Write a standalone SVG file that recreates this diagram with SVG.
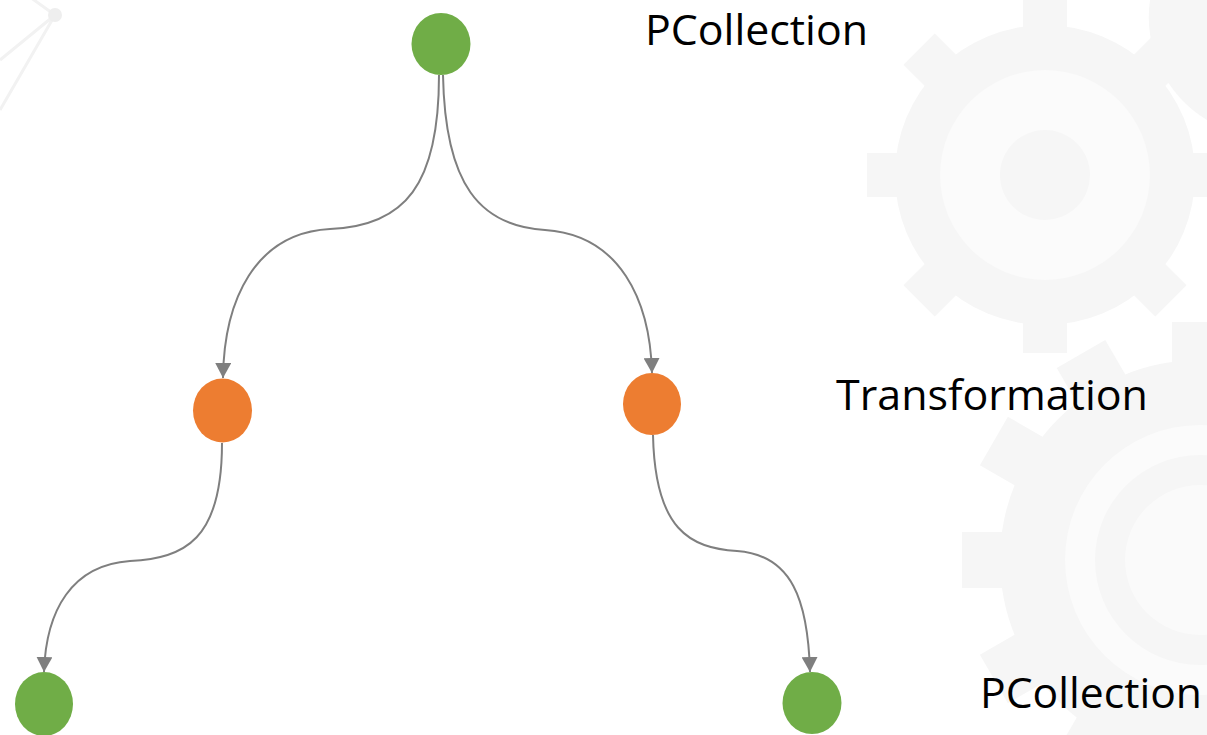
<svg xmlns="http://www.w3.org/2000/svg" width="1207" height="735" viewBox="0 0 1207 735">
<defs>
<style>
.bg{fill:#f6f6f6}
.bgl{fill:none;stroke:#f2f2f2}
.pc{fill:#70ad47}
.tr{fill:#ed7d31}
.edge{fill:none;stroke:#7f7f7f;stroke-width:2}
.lbl{font-family:"Open Sans","Liberation Sans",sans-serif;font-size:42px;fill:#000}
</style>
<marker id="arrow" viewBox="0 0 15 16" refX="15" refY="8" markerWidth="15" markerHeight="16" markerUnits="userSpaceOnUse" orient="auto">
<path d="M0,0 L15,8 L0,16 Z" fill="#7f7f7f"/>
</marker>
</defs>
<rect width="1207" height="735" fill="#ffffff"/>
<g id="background">
<path class="bgl" stroke-width="3" d="M55,15 L0,110 M55,15 L20,-10 M55,15 L0,60"/>
<circle cx="55" cy="15" r="7" fill="#eeeeee"/>
<g transform="translate(1045 175)">
<circle r="150" class="bg"/>
<g class="bg">
<rect x="-22" y="-178" width="44" height="40"/>
<rect x="-22" y="-178" width="44" height="40" transform="rotate(45)"/>
<rect x="-22" y="-178" width="44" height="40" transform="rotate(90)"/>
<rect x="-22" y="-178" width="44" height="40" transform="rotate(135)"/>
<rect x="-22" y="-178" width="44" height="40" transform="rotate(180)"/>
<rect x="-22" y="-178" width="44" height="40" transform="rotate(225)"/>
<rect x="-22" y="-178" width="44" height="40" transform="rotate(270)"/>
<rect x="-22" y="-178" width="44" height="40" transform="rotate(315)"/>
</g>
<circle r="105" fill="#ffffff" opacity="0.5"/>
<circle r="45" class="bg"/>
</g>
<g transform="translate(1200 560)">
<circle r="200" class="bg"/>
<g class="bg">
<rect x="-28" y="-238" width="56" height="45" transform="rotate(-90)"/>
<rect x="-28" y="-238" width="56" height="45" transform="rotate(-60)"/>
<rect x="-28" y="-238" width="56" height="45" transform="rotate(-30)"/>
<rect x="-28" y="-238" width="56" height="45" transform="rotate(-120)"/>
<rect x="-28" y="-238" width="56" height="45" transform="rotate(-150)"/>
<rect x="-28" y="-238" width="56" height="45"/>
</g>
<circle r="135" fill="#ffffff" opacity="0.55"/>
<circle r="105" class="bg"/>
<circle r="75" fill="#ffffff" opacity="0.45"/>
</g>
<path d="M1150,0 A120,120 0 0 0 1207,120 L1207,0 Z" class="bg"/>
</g>
<g id="connectors">
<path class="edge" marker-end="url(#arrow)" d="M439,75 C439,185 405,226 330,229 C255,233 224,300 223,378"/>
<path class="edge" marker-end="url(#arrow)" d="M443,75 C445,185 480,226 545,230 C620,235 650,300 652,373"/>
<path class="edge" marker-end="url(#arrow)" d="M222,443 C222,540 185,558 130,561 C72,565 46,610 44,672"/>
<path class="edge" marker-end="url(#arrow)" d="M653,435 C655,530 690,548 737,551 C792,555 808,600 810,672"/>
</g>
<g id="node-top"><ellipse class="pc" cx="441" cy="44" rx="29.5" ry="31"/></g>
<g id="node-left-transform"><ellipse class="tr" cx="222.5" cy="410.5" rx="29.5" ry="32"/></g>
<g id="node-right-transform"><ellipse class="tr" cx="652" cy="404" rx="29" ry="31"/></g>
<g id="node-bottom-left"><ellipse class="pc" cx="44" cy="704" rx="29" ry="32"/></g>
<g id="node-bottom-right"><ellipse class="pc" cx="812" cy="703" rx="29.5" ry="31"/></g>
<g id="labels">
<text class="lbl" x="645" y="45" textLength="223" lengthAdjust="spacingAndGlyphs">PCollection</text>
<text class="lbl" x="836" y="410" textLength="312" lengthAdjust="spacingAndGlyphs">Transformation</text>
<text class="lbl" x="980" y="708" textLength="222" lengthAdjust="spacingAndGlyphs">PCollection</text>
</g>
</svg>
